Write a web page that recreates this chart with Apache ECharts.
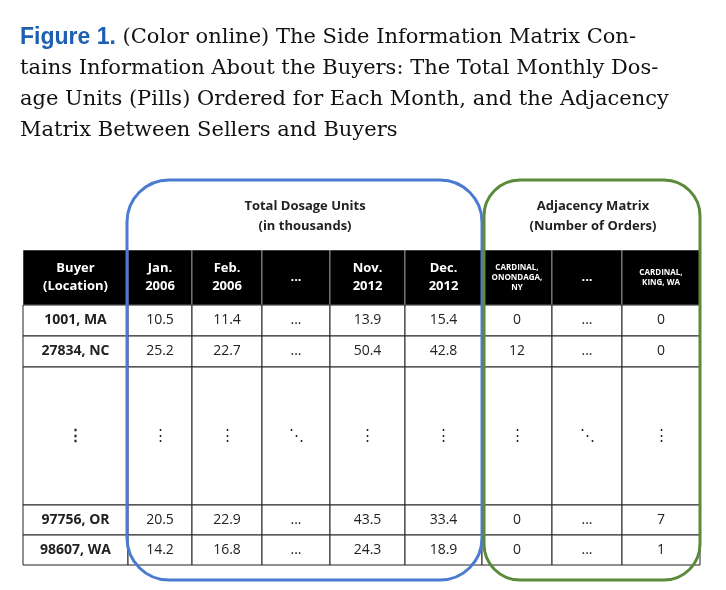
<!DOCTYPE html>
<html>
<head>
<meta charset="utf-8">
<script src="https://cdn.jsdelivr.net/npm/echarts@6/dist/echarts.min.js"></script>
<style>body{margin:0;background:#fff}#main{width:726px;height:590px}</style>
</head>
<body>
<div id="main"></div>
<script>
// table content
var headers = ['Buyer\n(Location)', 'Jan.\n2006', 'Feb.\n2006', '...', 'Nov.\n2012', 'Dec.\n2012',
    'CARDINAL,\nONONDAGA,\nNY', '...', 'CARDINAL,\nKING, WA'];
var buyers = ['1001, MA', '27834, NC', '⋮', '97756, OR', '98607, WA'];
var dosage = [
    ['10.5', '11.4', '...', '13.9', '15.4'],
    ['25.2', '22.7', '...', '50.4', '42.8'],
    ['⋮', '⋮', '⋱', '⋮', '⋮'],
    ['20.5', '22.9', '...', '43.5', '33.4'],
    ['14.2', '16.8', '...', '24.3', '18.9']
];
var orders = [
    ['0', '...', '0'],
    ['12', '...', '0'],
    ['⋮', '⋱', '⋮'],
    ['0', '...', '7'],
    ['0', '...', '1']
];
// layout
var colW = [105, 64, 70, 68, 75, 77, 70, 70, 78];
var rowH = [55, 31, 31, 138, 30, 30];

var colEdge = [0], rowEdge = [0];
colW.forEach(function (w, i) { colEdge.push(colEdge[i] + w); });
rowH.forEach(function (h, i) { rowEdge.push(rowEdge[i] + h); });

var cells = [];
headers.forEach(function (t, c) { cells.push([c, 0, t]); });
buyers.forEach(function (b, r) {
    cells.push([0, r + 1, b]);
    dosage[r].forEach(function (v, c) { cells.push([c + 1, r + 1, v]); });
    orders[r].forEach(function (v, c) { cells.push([c + 6, r + 1, v]); });
});

function renderCell(params, api) {
    var c = api.value(0), r = api.value(1);
    var t = cells[params.dataIndex][2];
    var p0 = api.coord([colEdge[c], rowEdge[r]]);
    var p1 = api.coord([colEdge[c + 1], rowEdge[r + 1]]);
    var head = r === 0;
    var small = head && (c === 6 || c === 8);
    var fs = small ? 8 : (head ? 13 : 14);
    if (t === '⋮' || t === '⋱') fs = 15;
    return {
        type: 'group',
        children: [{
            type: 'rect',
            shape: { x: p0[0], y: p0[1], width: p1[0] - p0[0], height: p1[1] - p0[1] },
            style: { fill: head ? '#000' : '#fff', stroke: head ? '#fff' : '#222', lineWidth: head ? 0.5 : 1 }
        }, {
            type: 'text',
            x: (p0[0] + p1[0]) / 2, y: (p0[1] + p1[1]) / 2,
            style: {
                text: t, fill: head ? '#fff' : '#222', align: 'center', verticalAlign: 'middle',
                fontFamily: 'Open Sans', fontSize: fs, lineHeight: small ? 10 : 18,
                fontWeight: (head || c === 0) ? 'bold' : 'normal'
            }
        }]
    };
}

var chart = echarts.init(document.getElementById('main'));
chart.setOption({
    animation: false,
    grid: { left: 23, top: 250, width: colEdge[colEdge.length - 1], height: rowEdge[rowEdge.length - 1] },
    xAxis: { type: 'value', min: 0, max: colEdge[colEdge.length - 1], show: false },
    yAxis: { type: 'value', min: 0, max: rowEdge[rowEdge.length - 1], inverse: true, show: false },
    series: [{
        type: 'custom', renderItem: renderCell, data: cells, z: 1
    }],
    graphic: [
        {
            type: 'text', x: 20, y: 22, z: 10,
            style: {
                text: '{b|Figure 1.} (Color online) The Side Information Matrix Con-\ntains Information About the Buyers: The Total Monthly Dos-\nage Units (Pills) Ordered for Each Month, and the Adjacency\nMatrix Between Sellers and Buyers',
                fontFamily: 'DejaVu Serif', fontSize: 21, lineHeight: 31, fill: '#111',
                rich: { b: { fontFamily: 'Liberation Sans', fontWeight: 'bold', fontSize: 23, fill: '#1d5fb0' } }
            }
        },
        { type: 'text', x: 305, y: 196, z: 10, style: { text: 'Total Dosage Units\n(in thousands)', align: 'center', fontFamily: 'Open Sans', fontWeight: 'bold', fontSize: 13, lineHeight: 20, fill: '#222' } },
        { type: 'text', x: 593, y: 196, z: 10, style: { text: 'Adjacency Matrix\n(Number of Orders)', align: 'center', fontFamily: 'Open Sans', fontWeight: 'bold', fontSize: 13, lineHeight: 20, fill: '#222' } },
        { type: 'rect', z: 10, shape: { x: 127, y: 180, width: 355, height: 400, r: 42 }, style: { fill: 'none', stroke: '#4a7bd0', lineWidth: 3 } },
        { type: 'rect', z: 10, shape: { x: 484, y: 180, width: 216, height: 400, r: 36 }, style: { fill: 'none', stroke: '#5a8a3a', lineWidth: 3 } }
    ]
});
</script>
</body>
</html>
